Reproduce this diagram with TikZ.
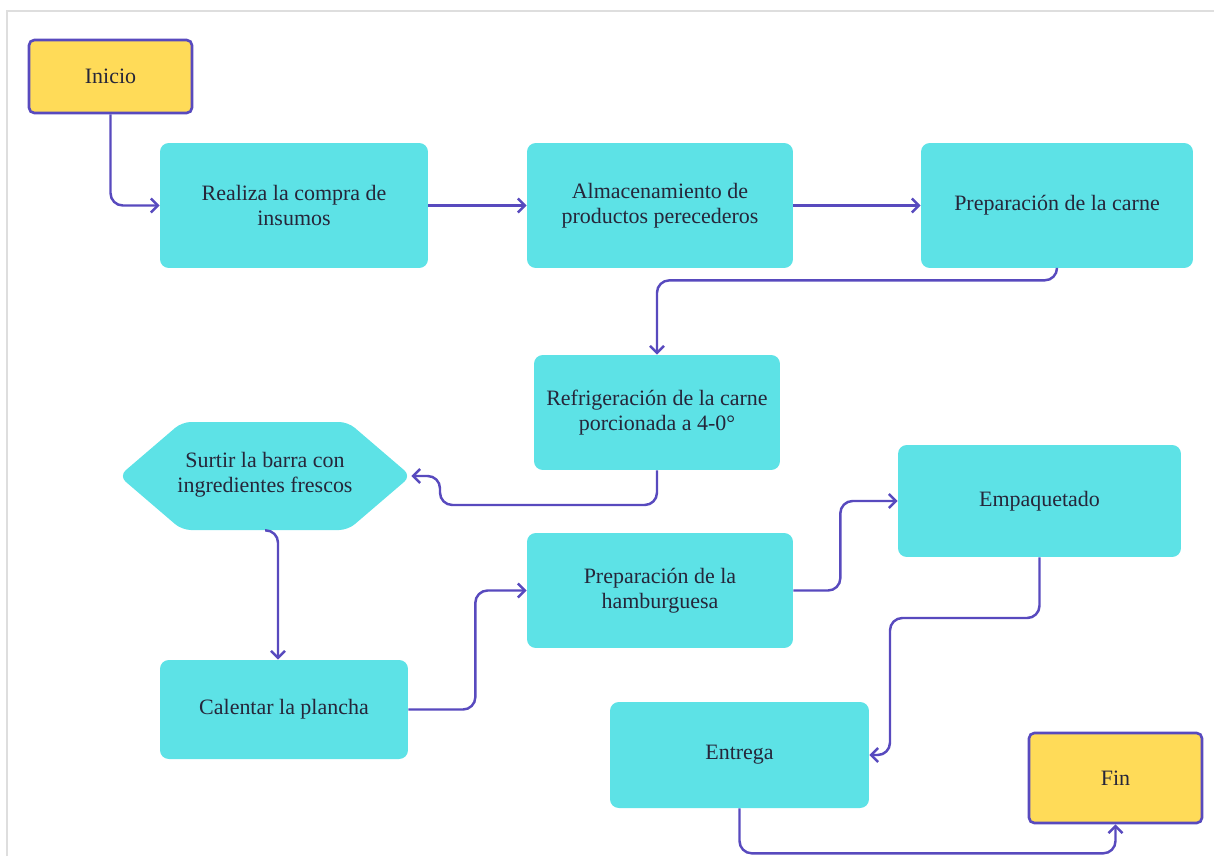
\documentclass[tikz,border=0pt]{standalone}
\usepackage{fontspec}
\setmainfont{Liberation Serif}
\usepackage{tikz}
\usetikzlibrary{arrows.meta, positioning, calc}
\definecolor{mycyan}{RGB}{93,226,230}
\definecolor{myyellow}{RGB}{255,219,88}
\definecolor{mypurple}{RGB}{88,74,190}
\definecolor{mytext}{RGB}{38,38,58}
\definecolor{myframe}{RGB}{222,222,222}
\tikzset{
  stepbox/.style={rectangle, fill=mycyan, draw=none, align=center,
    rounded corners=5pt, text=mytext, font=\rmfamily\fontsize{12.5}{14.5}\selectfont},
  endbox/.style={rectangle, fill=myyellow, draw=mypurple, align=center,
    rounded corners=3pt, line width=1.5pt, text=mytext,
    font=\rmfamily\fontsize{12.5}{14.5}\selectfont},
  arrow/.style={-{Straight Barb[length=4pt,width=8pt]}, line width=1.4pt,
    color=mypurple, rounded corners=7pt}
}
\begin{document}
\begin{tikzpicture}[x=0.02cm, y=-0.02cm]
  \useasboundingbox (0,0) rectangle (1214,856);
  % frame
  \draw[myframe, line width=1pt] (7,856) -- (7,11) -- (1214,11);
  % start / end
  \node[endbox, minimum width=3.26cm, minimum height=1.46cm] (inicio) at (110.5,76.5) {Inicio};
  \node[endbox, minimum width=3.46cm, minimum height=1.8cm] (fin) at (1115.5,778) {Fin};
  % top row
  \node[stepbox, minimum width=5.36cm, minimum height=2.5cm] (compra) at (294,205.5)
    {Realiza la compra de\\insumos};
  \node[stepbox, minimum width=5.32cm, minimum height=2.5cm] (almacen) at (660,205.5)
    {Almacenamiento de\\productos perecederos};
  \node[stepbox, minimum width=5.44cm, minimum height=2.5cm] (carne) at (1057,205.5)
    {Preparación de la carne};
  % middle
  \node[stepbox, minimum width=4.92cm, minimum height=2.3cm] (refrig) at (657,412.5)
    {Refrigeración de la carne\\porcionada a 4-0°};
  \fill[mycyan, rounded corners=5pt] (119,476) -- (182,422) -- (348,422) -- (411,476)
    -- (348,530) -- (182,530) -- cycle;
  \node[minimum width=5.84cm, minimum height=2.16cm, align=center, text=mytext,
    font=\rmfamily\fontsize{12.5}{14.5}\selectfont] (surtir) at (265,476) {};
  \node[align=center, text=mytext, font=\rmfamily\fontsize{12.5}{14.5}\selectfont]
    at ([yshift=0.02cm]surtir.center) {Surtir la barra con\\ingredientes frescos};
  \node[stepbox, minimum width=5.32cm, minimum height=2.3cm] (hamb) at (660,590.5)
    {Preparación de la\\hamburguesa};
  \node[stepbox, minimum width=5.66cm, minimum height=2.24cm] (empaq) at (1039.5,501)
    {\raisebox{0.08cm}{Empaquetado}};
  \node[stepbox, minimum width=4.96cm, minimum height=1.98cm] (plancha) at (284,709.5)
    {Calentar la plancha};
  \node[stepbox, minimum width=5.18cm, minimum height=2.12cm] (entrega) at (739.5,755)
    {\raisebox{0.08cm}{Entrega}};
  % bends
  \coordinate (k1) at (440,505);
  \coordinate (k2) at (890,618);
  % connectors
  \draw[arrow] (inicio.south) |- (compra.west);
  \draw[arrow] (compra) -- (almacen);
  \draw[arrow] (almacen) -- (carne);
  \draw[arrow] (carne.south) -- ++(0,12) -| (refrig.north);
  \draw[arrow] (refrig.south) |- (k1) |- (surtir.east);
  \draw[arrow] (surtir.south) -| ([xshift=-0.12cm]plancha.north);
  \draw[arrow] (plancha.east) -- ++(67,0) |- (hamb.west);
  \draw[arrow] (hamb.east) -- ++(47,0) |- (empaq.west);
  \draw[arrow] (empaq.south) |- (k2) |- (entrega.east);
  \draw[arrow] (entrega.south) -- ++(0,45) -| (fin.south);
\end{tikzpicture}
\end{document}
